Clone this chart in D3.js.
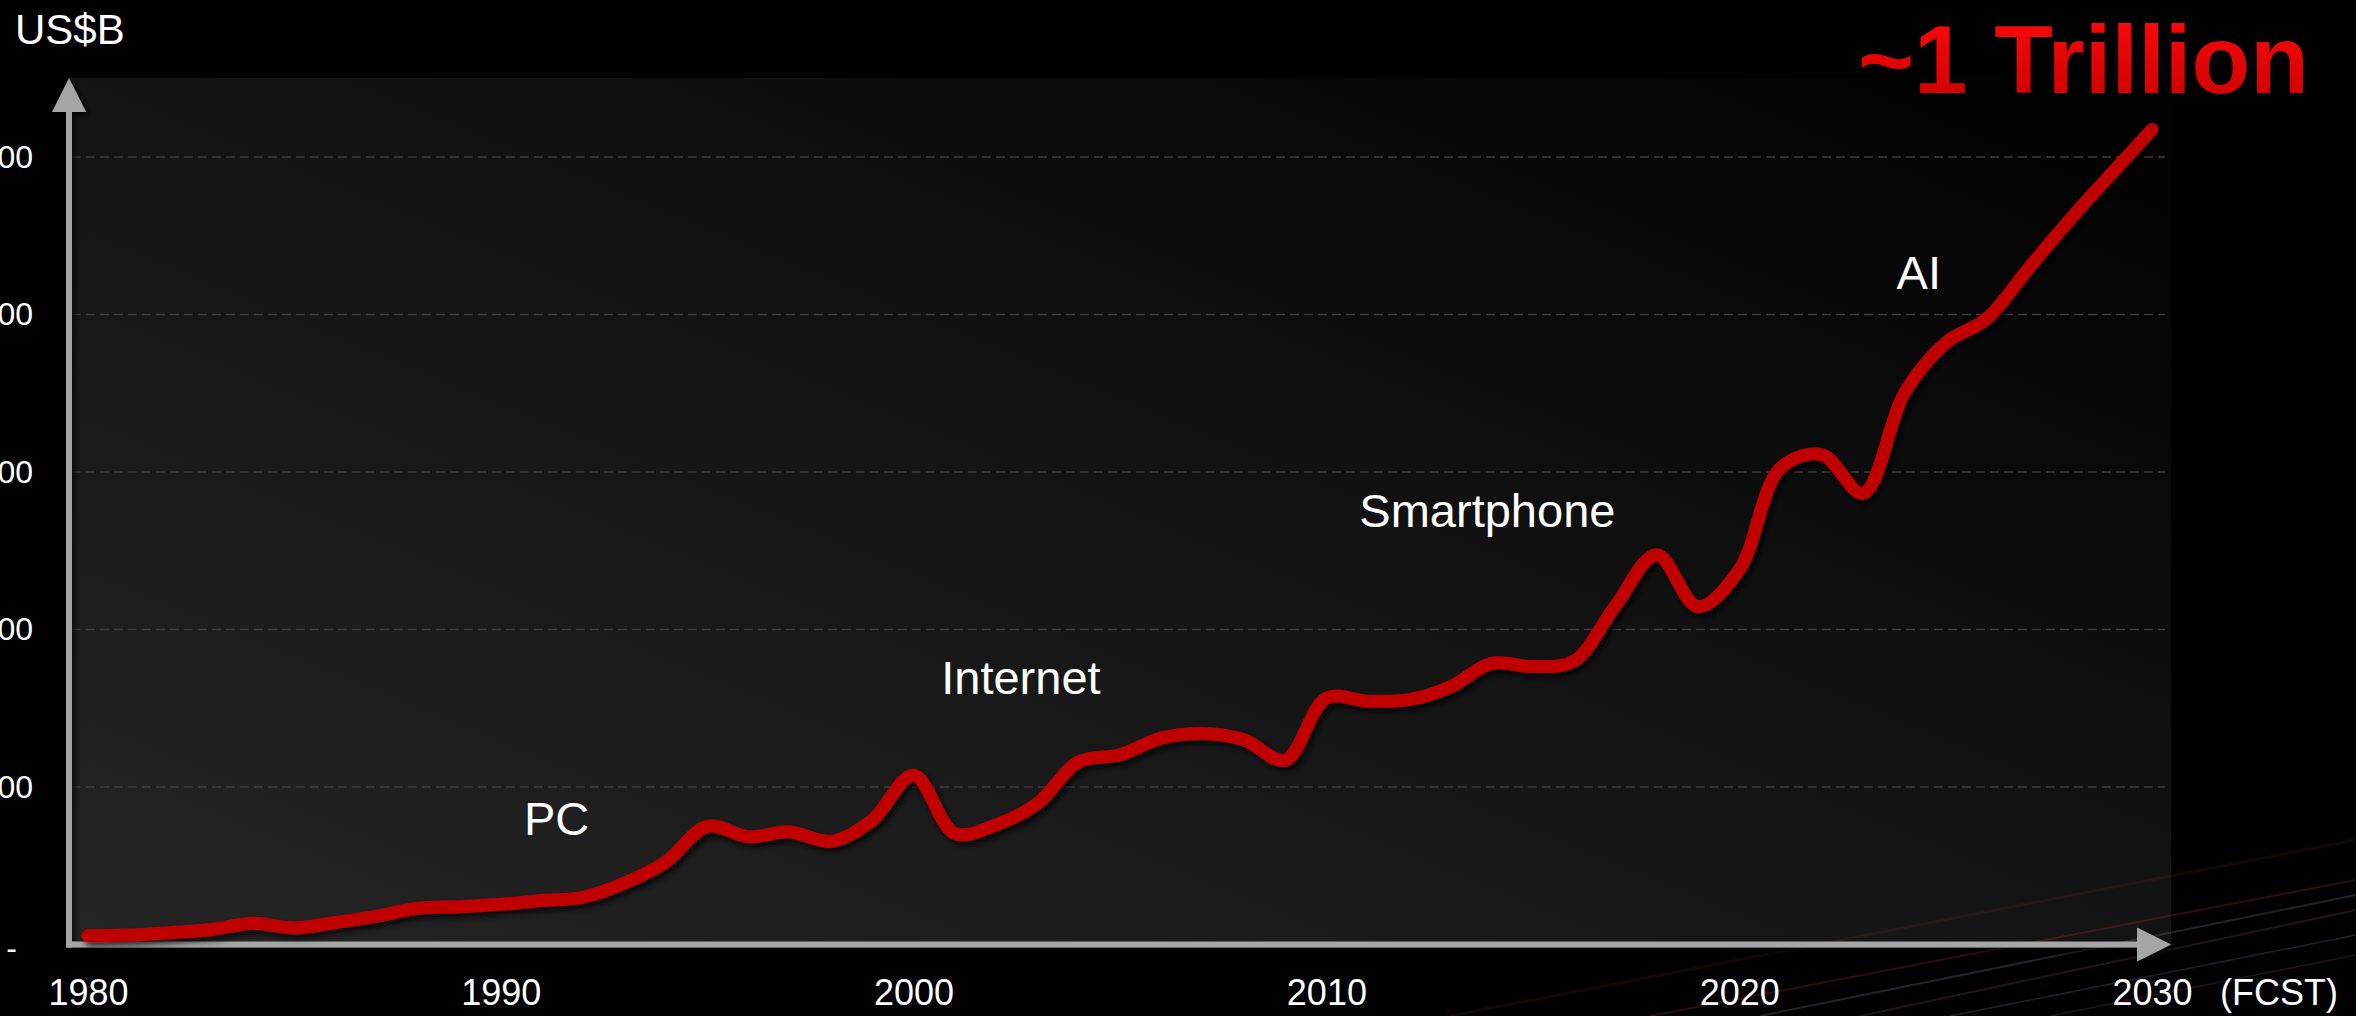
<!DOCTYPE html>
<html>
<head>
<meta charset="utf-8">
<script src="https://cdn.jsdelivr.net/npm/d3@7/dist/d3.min.js"></script>
<style>
  html, body { margin: 0; padding: 0; background: #000; overflow: hidden; }
  svg { display: block; }
  text { font-family: "Liberation Sans", Arial, sans-serif; }
</style>
</head>
<body>
<svg id="chart" width="2356" height="1016"></svg>
<script>
// ---- data ----
const years = [1980,1981,1982,1983,1984,1985,1986,1987,1988,1989,
               1990,1991,1992,1993,1994,1995,1996,1997,1998,1999,
               2000,2001,2002,2003,2004,2005,2006,2007,2008,2009,
               2010,2011,2012,2013,2014,2015,2016,2017,2018,2019,
               2020,2021,2022,2023,2024,2025,2026,2027,2028,2029,2030];
const marketUSDB = [11,12,15,19,27,21,28,36,46,48,
                    51,56,60,78,105,150,137,143,131,158,
                    215,141,152,179,232,241,262,268,260,234,
                    313,309,311,327,357,353,360,430,495,429,
                    476,605,622,573,700,764,795,858,920,978,1035];
const yTickValues = [0,200,400,600,800,1000];
const yTickLabels = ["-","200","400","600","800","1,000"];
const xTickYears = [1980,1990,2000,2010,2020,2030];
const eraLabels = ["PC","Internet","Smartphone","AI"];
const eraYears  = [1991.35, 2002.6, 2013.9, 2024.35];
const eraValues = [139, 318, 530, 833];
const unitLabel = "US$B";
const forecastLabel = "(FCST)";
const headline = "~1 Trillion";

// ---- layout ----
const W = 2356, H = 1016;
const axisX = 69, axisY = 944.5;
const svg = d3.select("#chart");
const defs = svg.append("defs");

const x = d3.scaleLinear().domain([1980, 2030]).range([88, 2152]);
const y = d3.scaleLinear().domain([0, 1000]).range([axisY, 157]);

// plot background gradient
const bg = defs.append("linearGradient").attr("id","bgGrad")
  .attr("x1","0%").attr("y1","100%").attr("x2","100%").attr("y2","0%");
bg.append("stop").attr("offset","0%").attr("stop-color","#252525");
bg.append("stop").attr("offset","55%").attr("stop-color","#121212");
bg.append("stop").attr("offset","100%").attr("stop-color","#000000");

const tg = defs.append("linearGradient").attr("id","titleGrad")
  .attr("x1","0").attr("y1","0").attr("x2","0").attr("y2","1");
tg.append("stop").attr("offset","0%").attr("stop-color","#ff0a0a");
tg.append("stop").attr("offset","100%").attr("stop-color","#c80000");

const shadow = defs.append("filter").attr("id","shadow")
  .attr("x","-10%").attr("y","-10%").attr("width","130%").attr("height","130%");
shadow.append("feDropShadow").attr("dx",3).attr("dy",4).attr("stdDeviation",3)
  .attr("flood-color","#000").attr("flood-opacity",0.75);

svg.append("rect").attr("width",W).attr("height",H).attr("fill","#000");

svg.append("rect")
  .attr("x", axisX).attr("y", 78)
  .attr("width", 2171 - axisX).attr("height", axisY - 78)
  .attr("fill","url(#bgGrad)");

// decorative streaks (bottom-right)
const streaks = [
  {x1:1650,y1:1016,x2:2356,y2:880,c:"#8a2a20",o:0.35,w:2},
  {x1:1760,y1:1016,x2:2356,y2:895,c:"#6a7a90",o:0.30,w:2},
  {x1:1860,y1:1016,x2:2356,y2:910,c:"#9a5060",o:0.25,w:2},
  {x1:1950,y1:1016,x2:2356,y2:935,c:"#4a6a80",o:0.35,w:1.5},
  {x1:2050,y1:1016,x2:2356,y2:955,c:"#8a3a50",o:0.30,w:1.5},
  {x1:1450,y1:1016,x2:2356,y2:840,c:"#6a2a18",o:0.18,w:3}
];
svg.append("g").selectAll("line").data(streaks).join("line")
  .attr("x1",d=>d.x1).attr("y1",d=>d.y1).attr("x2",d=>d.x2).attr("y2",d=>d.y2)
  .attr("stroke",d=>d.c).attr("stroke-opacity",d=>d.o).attr("stroke-width",d=>d.w);

// gridlines
svg.append("g").selectAll("line").data(yTickValues.filter(v => v > 0)).join("line")
  .attr("x1", axisX + 3).attr("x2", 2165)
  .attr("y1", d => y(d)).attr("y2", d => y(d))
  .attr("stroke", "#3c3c3c").attr("stroke-width", 1.5)
  .attr("stroke-dasharray", "9,5");

// y axis labels (cut off at the left edge, as in the source)
const yAxis = d3.axisLeft(y).tickValues(yTickValues)
  .tickFormat((d,i) => yTickLabels[i]).tickSize(0).tickPadding(36);
const gy = svg.append("g").attr("transform", `translate(${axisX},0)`).call(yAxis);
gy.select(".domain").remove();
gy.selectAll("text").attr("fill","#fff").attr("font-size",32)
  .attr("font-family","'Liberation Sans', Arial, sans-serif");
gy.selectAll(".tick").filter(d => d === 0).select("text")
  .attr("x", -52).attr("dy", "0.45em");

// x axis labels
const xAxis = d3.axisBottom(x).tickValues(xTickYears).tickFormat(d3.format("d"))
  .tickSize(0);
const gx = svg.append("g").attr("transform", `translate(0,${axisY})`).call(xAxis);
gx.select(".domain").remove();
gx.selectAll("text").attr("fill","#fff").attr("font-size",36)
  .attr("font-family","'Liberation Sans', Arial, sans-serif")
  .attr("dy", null).attr("y", 60);

svg.append("text").attr("x", 2220).attr("y", axisY + 60)
  .attr("fill","#fff").attr("font-size",36).text(forecastLabel);

// axes with arrows
const axes = svg.append("g").attr("filter","url(#shadow)");
axes.append("line").attr("x1",axisX).attr("x2",axisX)
  .attr("y1",105).attr("y2",axisY+3)
  .attr("stroke","#a6a6a6").attr("stroke-width",6);
axes.append("path")
  .attr("d", `M${axisX},78 L${axisX-17},112 L${axisX+17},112 Z`)
  .attr("fill","#a6a6a6");
axes.append("line").attr("x1",axisX-3).attr("x2",2140)
  .attr("y1",axisY).attr("y2",axisY)
  .attr("stroke","#a6a6a6").attr("stroke-width",6);
axes.append("path")
  .attr("d", `M2171,${axisY} L2137,${axisY-17} L2137,${axisY+17} Z`)
  .attr("fill","#a6a6a6");

// data line
const series = years.map((yr,i) => ({year: yr, value: marketUSDB[i]}));
const line = d3.line().x(d => x(d.year)).y(d => y(d.value))
  .curve(d3.curveCatmullRom.alpha(0.5));
svg.append("path").datum(series)
  .attr("d", line)
  .attr("fill","none").attr("stroke","#c00000").attr("stroke-width",13)
  .attr("stroke-linecap","round").attr("stroke-linejoin","round")
  .attr("filter","url(#shadow)");

// era annotations
svg.append("g").selectAll("text").data(eraLabels).join("text")
  .attr("x", (d,i) => x(eraYears[i])).attr("y", (d,i) => y(eraValues[i]))
  .attr("text-anchor","middle").attr("fill","#fff").attr("font-size",47)
  .text(d => d);

// unit label
svg.append("text").attr("x",15).attr("y",44).attr("fill","#fff")
  .attr("font-size",42).text(unitLabel);

// headline
svg.append("text").attr("x",1858).attr("y",93)
  .attr("font-size",96).attr("font-weight","bold")
  .attr("fill","url(#titleGrad)").text(headline);
</script>
</body>
</html>
